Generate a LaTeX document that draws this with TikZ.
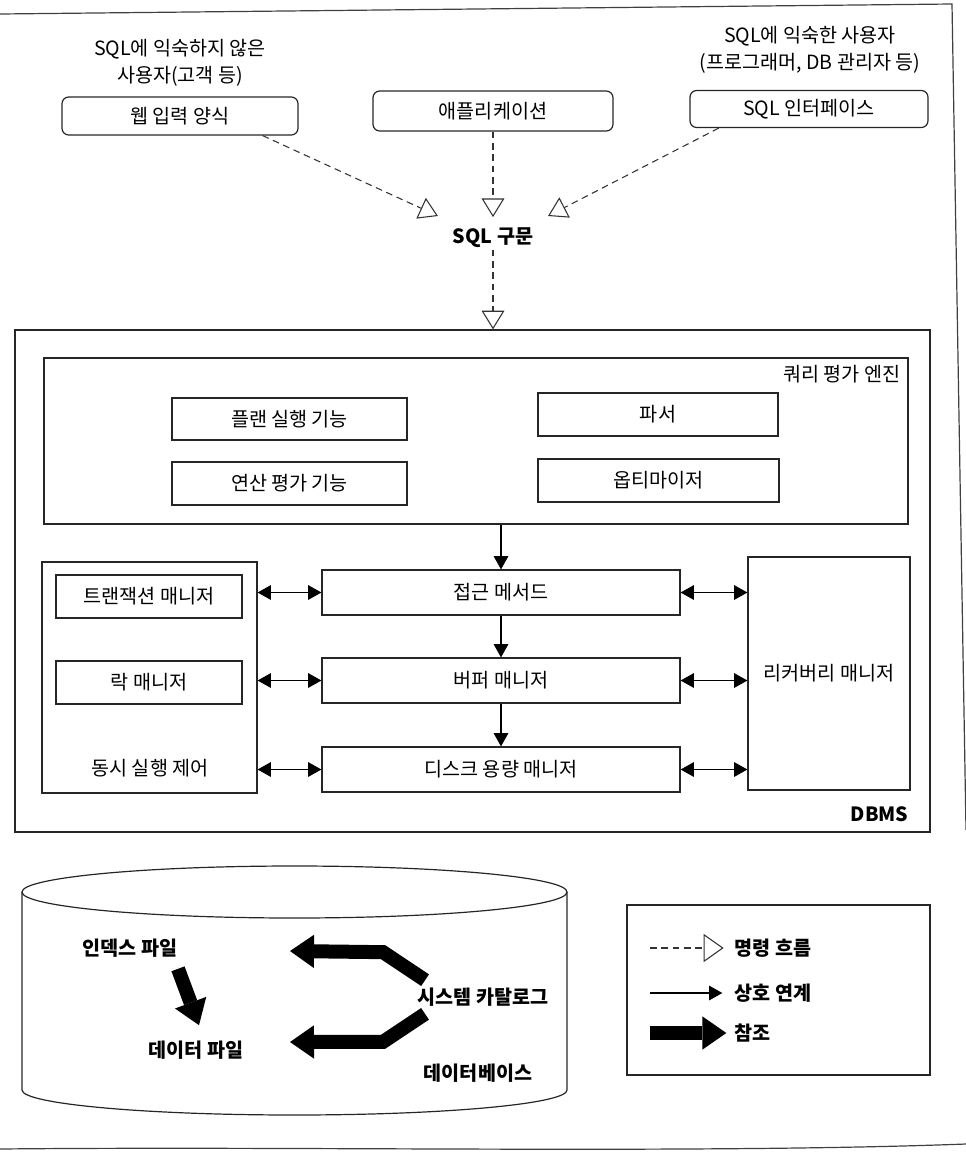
\documentclass[tikz,border=0pt]{standalone}
\usepackage{fontspec}
\setmainfont{Noto Sans CJK KR}
\usetikzlibrary{arrows.meta,calc}
\begin{document}
\begin{tikzpicture}[x=0.75pt,y=-0.75pt,
  every node/.style={font=\fontsize{14.7}{17}\selectfont, inner sep=1pt},
  wh/.style 2 args={minimum width=#1*0.75pt, minimum height=#2*0.75pt},
  box/.style={draw=black!85, line width=0.9pt, inner sep=0pt},
  rbox/.style={box, rounded corners=5pt},
  bold/.style={font=\fontsize{14.7}{17}\selectfont\bfseries},
  lbl/.style={align=center, font=\fontsize{14.7}{20}\selectfont},
  flow/.style={draw=black!80, line width=0.8pt, dash pattern=on 5pt off 3.5pt,
    -{Triangle[open, length=14pt, width=17pt, line width=0.8pt]}},
  flowbig/.style={flow, -{Triangle[open, length=15pt, width=21pt, line width=0.8pt]}},
  link/.style={draw=black, line width=0.8pt, -{Triangle[length=10pt, width=11pt]}},
  both/.style={draw=black, line width=0.8pt, {Triangle[length=10pt, width=11pt]}-{Triangle[length=10pt, width=11pt]}},
  refa/.style={draw=black, line width=10.5pt, line join=miter,
    -{Triangle[length=18pt, width=25pt, line width=0pt]}},
  frame/.style={draw=black!75, line width=0.9pt}
]
\useasboundingbox (0,0) rectangle (966,1157);
% page frame of the scan
\draw[frame] (0,14) -- (952,4) -- (966,830);
\draw[frame] (0,1149) .. controls (300,1146) and (700,1154) .. (966,1144);

% users
\node[lbl] (u1) at (180,63) {SQL에 익숙하지 않은\\사용자(고객 등)};
\node[lbl] (u2) at (810,50) {SQL에 익숙한 사용자\\(프로그래머, DB 관리자 등)};
\node[rbox, wh={236}{38}] (web) at (180,116) {웹 입력 양식};
\node[rbox, wh={240}{40}] (app) at (493,111) {애플리케이션};
\node[rbox, wh={238}{37}] (sqli) at (809,109) {SQL 인터페이스};
\node[bold] (sql) at (493,238) {SQL 구문};

\draw[flow] ([xshift=-27pt]web.south east) -- ([shift={(-55,-22)}]sql.center);
\draw[flow] (app.south) -- ([yshift=7pt]sql.north);
\draw[flow] ([xshift=22pt]sqli.south west) -- ([shift={(55,-22)}]sql.center);

% DBMS
\node[box, wh={915}{502}] (dbms) at (472.5,581) {};
\node[bold, anchor=south east] (dbmsl) at (910,823) {DBMS};
\draw[flow] (sql.south) -- (sql.south |- dbms.north);

\node[box, wh={864}{166}] (qe) at (476,441) {};
\node[anchor=north east] (qel) at (902,364) {쿼리 평가 엔진};
\node[box, wh={235}{42}] (plan) at (289.5,419) {플랜 실행 기능};
\node[box, wh={240}{43}] (parser) at (658,414.5) {파서};
\node[box, wh={235}{43}] (calc) at (289.5,483.5) {연산 평가 기능};
\node[box, wh={241}{43}] (opt) at (658.5,480.5) {옵티마이저};

\node[box, wh={215}{231}] (cc) at (149.5,677.5) {};
\node (ccl) at (150,768) {동시 실행 제어};
\node[box, wh={186}{43}] (tm) at (149,596.5) {트랜잭션 매니저};
\node[box, wh={186}{43}] (lm) at (149,682.5) {락 매니저};

\node[box, wh={358}{45}] (am) at (501,592.5) {접근 메서드};
\node[box, wh={358}{45}] (bm) at (501,680.5) {버퍼 매니저};
\node[box, wh={358}{45}] (dm) at (501,769.5) {디스크 용량 매니저};
\node[box, wh={162}{233}] (rm) at (829,673.5) {리커버리 매니저};

\draw[link] (am.north |- qe.south) -- (am.north);
\draw[link] (am.south) -- (bm.north);
\draw[link] (bm.south) -- (dm.north);
\foreach \b in {am,bm,dm}{
  \draw[both] (\b.west -| cc.east) -- (\b.west);
  \draw[both] (\b.east) -- (\b.east -| rm.west);
}

% database cylinder
\draw[box] (22,892) -- (22,1090) arc[start angle=180, end angle=360, x radius=204.4pt, y radius=18.75pt] -- (567,892);
\draw[box] (294.5,892) ellipse[x radius=204.4pt, y radius=19.5pt];
\node[bold] (idx) at (130,948) {인덱스 파일};
\node[bold] (dat) at (196,1050) {데이터 파일};
\node[bold] (cat) at (483,997) {시스템 카탈로그};
\node[bold] (dbl) at (478,1073) {데이터베이스};
\draw[refa] ([shift={(48,10)}]idx.south) -- ([shift={(3,-14)}]dat.north);
\coordinate (catu) at (290,951);
\coordinate (catd) at (290,1042);
\draw[refa] ([shift={(9,-6)}]cat.north west) -- ++(-42,-28) -- (catu);
\draw[refa] ([shift={(9,6)}]cat.south west) -- ++(-42,28) -- (catd);

% legend
\node[box, wh={303}{170}] (leg) at (778.5,990) {};
\node[bold, anchor=west] (l1) at (733,948) {명령 흐름};
\node[bold, anchor=west] (l2) at (733,993) {상호 연계};
\node[bold, anchor=west] (l3) at (733,1033) {참조};
\coordinate (l1s) at (650,948);
\coordinate (l2s) at (650,993);
\coordinate (l3s) at (650,1033);
\draw[flowbig] (l1s) -- ([xshift=-7pt]l1.west);
\draw[link] (l2s) -- ([xshift=-8pt]l2.west);
\draw[refa] (l3s) -- ([xshift=-5pt]l3.west);
\end{tikzpicture}
\end{document}
